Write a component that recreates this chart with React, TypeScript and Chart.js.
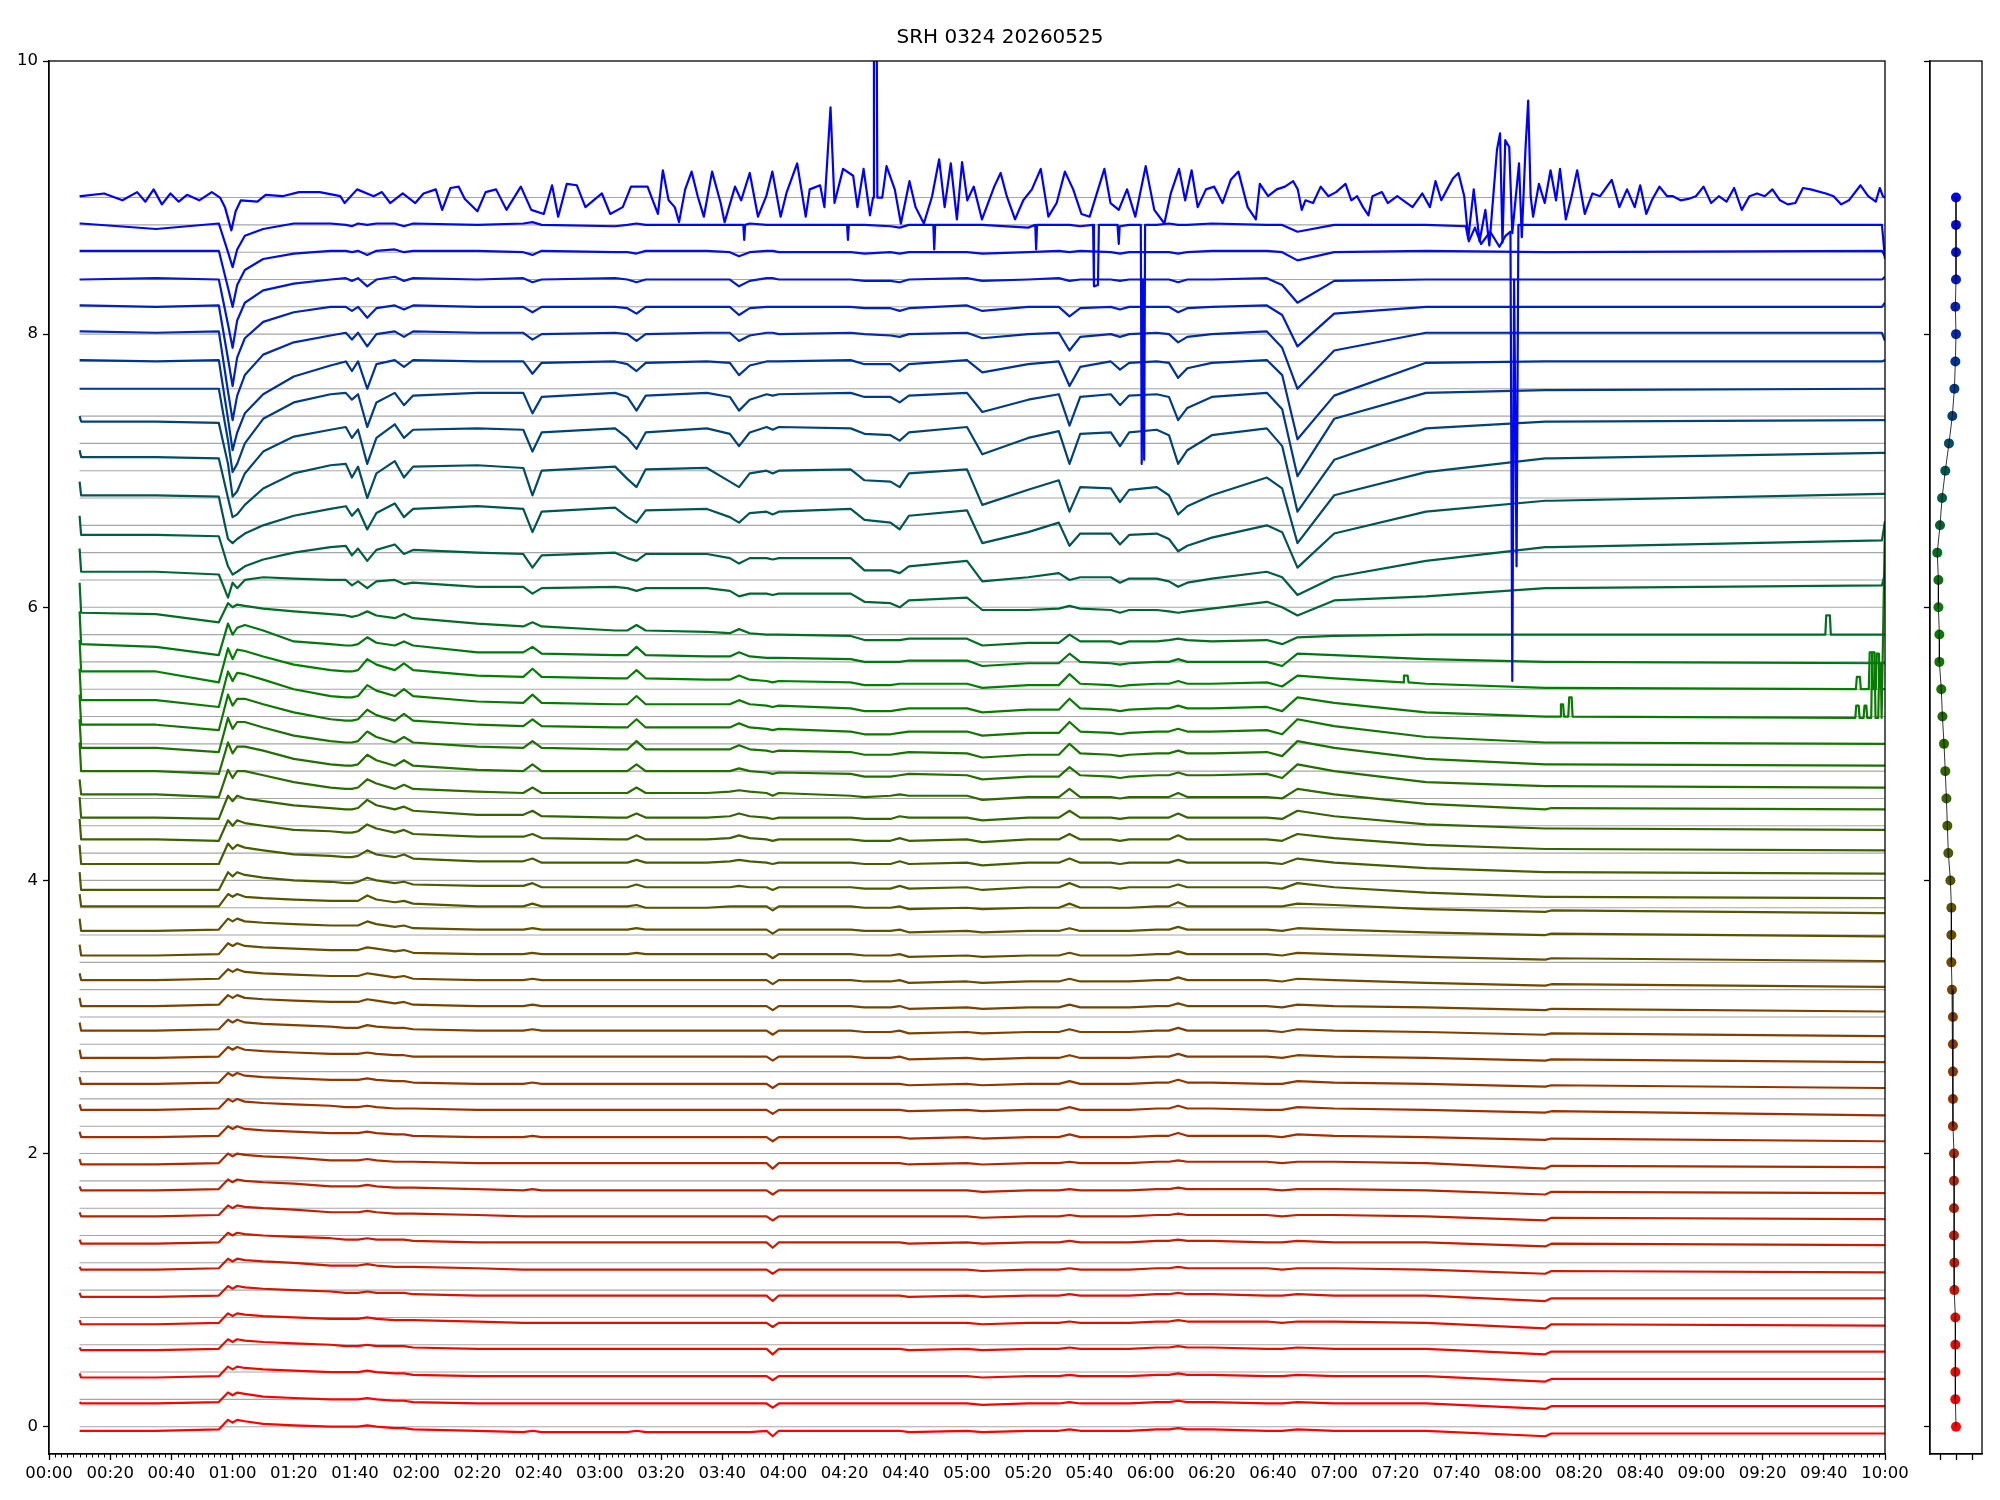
import React, { useEffect, useRef } from "react";
import { Chart, registerables } from "chart.js";

Chart.register(...registerables);

const TITLE = "SRH 0324 20260525";

const X_TICK_MINUTES = [0, 20, 40, 60, 80, 100, 120, 140, 160, 180, 200, 220, 240, 260, 280, 300, 320, 340, 360, 380, 400, 420, 440, 460, 480, 500, 520, 540, 560, 580, 600];
const X_TICK_LABELS = ["00:00", "00:20", "00:40", "01:00", "01:20", "01:40", "02:00", "02:20", "02:40", "03:00", "03:20", "03:40", "04:00", "04:20", "04:40", "05:00", "05:20", "05:40", "06:00", "06:20", "06:40", "07:00", "07:20", "07:40", "08:00", "08:20", "08:40", "09:00", "09:20", "09:40", "10:00"];
const Y_TICKS = [0, 2, 4, 6, 8, 10];
const PANEL_X_TICKS = [-1, 0, 1];

// channel offsets (top = channel 0)
const BASELINES = [9.0, 8.8, 8.6, 8.4, 8.2, 8.0, 7.8, 7.6, 7.4, 7.2, 7.0, 6.8, 6.6, 6.4, 6.2, 6.0, 5.8, 5.6, 5.4, 5.2, 5.0, 4.8, 4.6, 4.4, 4.2, 4.0, 3.8, 3.6, 3.4, 3.2, 3.0, 2.8, 2.6, 2.4, 2.2, 2.0, 1.8, 1.6, 1.4, 1.2, 1.0, 0.8, 0.6, 0.4, 0.2, 0.0];

// right panel marker positions
const DOT_X = [0, 0, 0, 0, -0.04, 0, -0.04, -0.1, -0.23, -0.44, -0.67, -0.87, -1.0, -1.17, -1.1, -1.1, -1.04, -1.04, -0.92, -0.85, -0.75, -0.67, -0.6, -0.54, -0.48, -0.35, -0.29, -0.29, -0.29, -0.25, -0.19, -0.19, -0.19, -0.19, -0.19, -0.125, -0.125, -0.125, -0.125, -0.1, -0.1, -0.04, -0.04, -0.04, -0.04, 0];

// time knots (minutes since 00:00) shared by channels 1..45
const KNOTS = [10, 10.5, 35, 55.5, 58.5, 60, 61.5, 64, 70, 80, 92, 97, 99, 101, 104, 107, 113, 116, 119, 140, 155, 158, 161, 185, 189, 192, 195, 215, 222.5, 225.5, 229, 234.5, 236.5, 238.5, 262, 266.5, 275, 278, 281, 300, 305, 320, 330, 333.5, 337, 347, 350, 353, 362, 366, 369, 372, 380, 398, 403, 408, 420, 450, 489, 491, 599, 600];

// channel 0 (top trace), minutes / values
const TOP_T = [
  10, 10.5, 18, 24, 28.8, 31.5, 34.2, 36.9, 39.7, 42.4,
  45.1, 49.1, 53.2, 55.9, 57.5, 59.6, 61, 62.7, 68.1, 70.8,
  76.3, 81.7, 88.5, 95.2, 96.6, 100.7, 106.1, 108.8, 111.5, 115.6,
  119.7, 122.4, 126.4, 128.5, 131.2, 133.9, 135.9, 140, 142.7, 146.1,
  149.5, 154.2, 157.6, 161.7, 164.4, 166.4, 169.2, 172.5, 175.3, 180.7,
  183.4, 187.5, 190.2, 195.6, 199, 200.6, 202.5, 204.5, 205.9, 207.9,
  210, 212, 214, 216.7, 219.5, 220.8, 224.2, 226.2, 229, 231.7,
  234.4, 236.4, 239.1, 241.1, 244.5, 247.3, 248.6, 252, 253.4, 255.4,
  256.7, 259.5, 262.8, 264.2, 266.2, 268.3, 269.3, 269.6, 270.4, 270.7,
  272.3, 273.7, 276.4, 278.4, 281.2, 283.2, 285.9, 288.6, 290.9, 292.7,
  294.7, 296.7, 298.4, 300.1, 302.2, 304.9, 308.9, 311, 313, 315.7,
  318.4, 321.2, 324.1, 326.6, 329.3, 332, 334.7, 337.4, 340.1, 344.9,
  346.9, 349.6, 352.3, 355, 358.4, 361.2, 364.5, 366.6, 369.3, 371.3,
  373.4, 375.4, 378.1, 380.8, 383.5, 386.2, 388.7, 391.7, 394.4, 395.7,
  398.4, 401.2, 403.9, 406.6, 408.1, 409.4, 410.6, 413.1, 415.6, 418.1,
  420.6, 423.7, 425.6, 427.5, 429.4, 431.2, 432.5, 435.6, 437.5, 440.6,
  443.1, 445.6, 448.8, 451.3, 453.1, 455, 456.9, 458.8, 460.6, 462.5,
  463.8, 465.6, 467.5, 469.4, 470.7, 473.2, 474.2, 475, 475.9, 477.2,
  478.2, 480.4, 481.3, 482.5, 483.4, 484.2, 485, 486.9, 488.8, 490.7,
  492.5, 493.8, 495.7, 497.6, 499.4, 501.9, 504.4, 506.9, 510.7, 513.2,
  515.7, 518.2, 520, 522, 523.8, 526.3, 528.8, 530.7, 533.2, 535.7,
  538.2, 540.7, 543.2, 545.7, 548.2, 550.7, 553.2, 555.7, 558.2, 560.7,
  563.2, 565.7, 568.2, 570.7, 573.2, 575.7, 580.7, 583.2, 585.7, 588.2,
  592, 594.5, 597, 598.3, 599.3, 600,
];
const TOP_V = [
  9.01, 9.01, 9.03, 8.98, 9.04, 8.97, 9.06, 8.95, 9.03, 8.97,
  9.02, 8.98, 9.04, 9.0, 8.93, 8.76, 8.9, 8.98, 8.97, 9.02,
  9.01, 9.04, 9.04, 9.01, 8.96, 9.06, 9.01, 9.04, 8.96, 9.03,
  8.96, 9.03, 9.06, 8.91, 9.07, 9.08, 8.99, 8.9, 9.04, 9.06,
  8.91, 9.08, 8.91, 8.88, 9.09, 8.86, 9.1, 9.09, 8.93, 9.03,
  8.88, 8.93, 9.08, 9.08, 8.88, 9.2, 8.98, 8.93, 8.82, 9.06,
  9.19, 9.01, 8.86, 9.19, 8.96, 8.82, 9.08, 8.98, 9.18, 8.86,
  9.01, 9.19, 8.86, 9.04, 9.25, 8.86, 9.06, 9.09, 8.93, 9.66,
  8.96, 9.21, 9.16, 8.93, 9.21, 8.87, 9.0, 10.8, 10.8, 9.0,
  9.0, 9.23, 9.06, 8.81, 9.12, 8.93, 8.81, 9.01, 9.28, 8.93,
  9.25, 8.84, 9.26, 8.98, 9.08, 8.84, 9.08, 9.18, 9.01, 8.84,
  8.98, 9.06, 9.21, 8.86, 8.96, 9.19, 9.06, 8.88, 8.86, 9.21,
  8.96, 8.91, 9.06, 8.86, 9.23, 8.91, 8.81, 9.03, 9.21, 8.98,
  9.2, 8.93, 9.06, 9.08, 8.96, 9.13, 9.19, 8.93, 8.84, 9.1,
  9.01, 9.06, 9.08, 9.12, 9.06, 8.91, 8.98, 8.96, 9.08, 9.01,
  9.04, 9.1, 8.98, 9.01, 8.93, 8.87, 9.01, 9.04, 8.96, 9.01,
  8.97, 8.93, 9.03, 8.93, 9.12, 8.98, 9.06, 9.14, 9.18, 9.01,
  8.7, 9.06, 8.68, 8.91, 8.65, 9.35, 9.47, 8.67, 9.42, 9.37,
  8.74, 9.25, 8.71, 9.35, 9.71, 9.01, 8.86, 9.1, 8.96, 9.2,
  8.98, 9.21, 8.84, 9.01, 9.2, 8.88, 9.03, 9.01, 9.13, 8.93,
  9.06, 8.93, 9.09, 8.88, 8.98, 9.08, 9.01, 9.01, 8.98, 8.99,
  9.01, 9.08, 8.96, 9.01, 8.97, 9.07, 8.91, 9.01, 9.03, 9.01,
  9.06, 8.98, 8.95, 8.96, 9.07, 9.06, 9.03, 9.01, 8.95, 8.98,
  9.09, 9.01, 8.97, 9.07, 9.01, 9.0,
];

// channels 1..45: deviation from offset at KNOTS, in hundredths
const K1 = [1,1,-3,1,-20,-31,-18,-8,-3,1, 1,0,-1,1,0,1,1,-1,1,0, 1,2,0,-1,0,1,0,0,0,0, 1,0,0,0,0,0,-1,-2,0,0, 0,-2,0,0,-1,0,-1,0,0,1, 0,0,1,0,0,-5,0,0,0,0, 0,-25];
const K2 = [1,1,1,1,-26,-40,-24,-13,-5,-1, 1,1,0,1,-2,1,2,0,1,1, 0,-2,1,0,0,-1,1,1,0,-3, 0,1,1,0,0,-1,0,-1,0,0, -1,0,1,0,1,0,-1,0,0,0, -1,0,1,1,0,-6,0,1,0,0, 1,-3];
const K3 = [0,0,1,0,-33,-50,-30,-17,-8,-3, 0,1,-1,1,-5,0,2,-1,1,0, 1,-2,0,1,0,-2,0,0,0,-5, -1,1,1,0,0,-1,-1,-2,0,1, -1,0,1,-1,0,0,-1,0,0,0, -2,0,0,1,-4,-17,-1,0,0,0, 0,2];
const K4 = [1,1,0,1,-38,-58,-37,-23,-11,-4, 0,0,-3,0,-8,-1,1,-2,1,0, 0,-4,0,0,-1,-5,0,0,0,-6, -1,0,0,0,0,-1,-1,-3,-1,1, -3,0,0,-7,-1,0,-2,0,0,0, -4,-1,0,1,-6,-29,-5,0,0,0, 0,3];
const K5 = [2,2,1,2,-42,-63,-45,-30,-15,-6, -1,1,-4,1,-9,0,2,-2,2,1, 1,-4,0,1,0,-5,0,1,1,-5, -1,1,1,0,1,0,-1,-2,0,1, -3,0,1,-12,-2,0,-2,0,1,0, -6,-2,0,2,-10,-40,-12,1,1,1, 1,-5];
const K6 = [1,1,0,1,-42,-65,-52,-38,-24,-11, -3,0,-7,0,-20,-2,1,-4,1,0, 0,-9,-1,0,-2,-7,-1,0,-1,-10, -3,0,0,0,1,-2,-2,-7,-2,1, -8,-2,0,-18,-4,0,-6,-1,0,-1, -12,-5,-1,1,-10,-57,-25,-1,0,0, 0,1];
const K7 = [0,0,0,0,-38,-61,-55,-40,-22,-10, -4,-3,-8,-4,-28,-10,-3,-12,-5,-3, -3,-18,-6,-3,-6,-16,-5,-3,-6,-16, -8,-4,-5,-4,-3,-6,-6,-10,-5,-3, -17,-8,-4,-27,-6,-4,-12,-5,-4,-6, -23,-14,-6,-3,-15,-64,-22,-3,-1,-1, 0,0];
const K8 = [0,-4,-4,-5,-35,-59,-55,-42,-26,-15, -10,-8,-16,-10,-35,-16,-6,-16,-10,-9, -10,-26,-12,-9,-16,-24,-12,-9,-13,-22, -12,-8,-10,-8,-9,-13,-14,-18,-12,-8, -28,-16,-11,-35,-13,-12,-22,-12,-10,-14, -35,-25,-14,-9,-22,-70,-32,-9,-4,-4, -3,-3];
const K9 = [-5,-10,-10,-11,-40,-54,-52,-45,-33,-22, -16,-15,-25,-17,-40,-22,-13,-25,-17,-16, -18,-38,-20,-17,-26,-32,-19,-18,-28,-32, -22,-20,-22,-20,-19,-27,-28,-32,-22,-19, -45,-34,-27,-50,-32,-33,-43,-34,-32,-38, -52,-46,-38,-25,-33,-73,-38,-21,-11,-11, -7,-7];
const K10 = [-8,-18,-18,-19,-50,-53,-50,-46,-40,-33, -28,-26,-33,-28,-43,-31,-24,-34,-28,-26, -28,-45,-30,-27,-34,-38,-29,-28,-34,-38, -31,-30,-32,-30,-28,-36,-38,-43,-33,-29, -53,-45,-38,-55,-46,-46,-54,-47,-46,-50, -59,-55,-49,-40,-45,-71,-46,-30,-22,-22, -17,-17];
const K11 = [-13,-27,-27,-28,-50,-56,-54,-50,-45,-40, -36,-35,-42,-37,-46,-38,-34,-41,-38,-40, -41,-51,-42,-40,-44,-46,-41,-41,-44,-48, -44,-44,-45,-44,-44,-53,-53,-55,-50,-46, -61,-58,-55,-60,-58,-58,-62,-59,-59,-61, -65,-62,-59,-54,-58,-71,-58,-46,-36,-36, -31,-17];
const K12 = [-17,-34,-34,-36,-53,-42,-46,-40,-38,-39, -40,-40,-44,-41,-46,-41,-40,-43,-42,-45, -45,-50,-46,-45,-46,-48,-46,-46,-48,-52, -50,-50,-51,-50,-50,-56,-57,-60,-55,-53, -62,-62,-61,-59,-61,-62,-64,-62,-62,-63, -64,-63,-61,-56,-60,-66,-55,-52,-46,-46, -44,-35];
const K13 = [-22,-44,-45,-51,-37,-40,-38,-39,-41,-43, -45,-46,-47,-46,-43,-46,-48,-45,-48,-52, -54,-51,-54,-57,-57,-53,-57,-58,-59,-56, -59,-60,-60,-60,-61,-64,-64,-64,-63,-63, -68,-66,-66,-60,-65,-65,-67,-65,-65,-64, -63,-64,-65,-64,-67,-62,-61,-60,-60,-60, -60,-60];
const K14 = [-23,-47,-49,-55,-32,-40,-35,-33,-37,-45, -47,-48,-48,-47,-42,-46,-48,-45,-48,-53, -53,-49,-54,-55,-55,-49,-55,-56,-56,-53, -56,-57,-57,-57,-58,-60,-60,-60,-59,-59, -63,-61,-61,-54,-60,-61,-62,-61,-60,-60, -58,-60,-60,-60,-63,-54,-55,-58,-60,-60, -61,-61];
const K15 = [-24,-47,-47,-55,-30,-38,-31,-32,-36,-42, -46,-47,-47,-46,-38,-42,-46,-41,-46,-50, -51,-45,-51,-52,-52,-46,-52,-53,-53,-50, -53,-54,-55,-54,-55,-57,-57,-56,-56,-56, -59,-57,-57,-49,-56,-57,-58,-57,-56,-56, -54,-56,-56,-55,-58,-50,-52,-56,-59,-59, -60,-60];
const K16 = [-25,-48,-48,-53,-27,-34,-28,-29,-33,-40, -45,-46,-46,-45,-37,-41,-45,-40,-45,-49, -50,-44,-50,-51,-51,-45,-51,-51,-51,-48, -51,-52,-53,-52,-54,-56,-56,-55,-54,-54, -57,-55,-55,-47,-54,-55,-56,-55,-54,-54, -52,-54,-54,-53,-56,-46,-50,-57,-60,-60, -61,82];
const K17 = [-24,-46,-46,-50,-24,-32,-27,-27,-31,-37, -42,-43,-43,-42,-35,-39,-43,-38,-43,-46, -47,-42,-47,-48,-48,-42,-48,-48,-48,-45, -48,-49,-50,-49,-51,-53,-53,-52,-51,-51, -54,-52,-52,-44,-51,-52,-53,-52,-51,-51, -49,-51,-51,-50,-53,-42,-47,-55,-59,-59, -60,-60];
const K18 = [-22,-43,-43,-46,-21,-29,-24,-24,-28,-34, -38,-39,-39,-38,-31,-35,-39,-35,-39,-42, -43,-38,-43,-44,-44,-38,-44,-44,-44,-41, -44,-45,-46,-45,-46,-48,-48,-47,-46,-47, -50,-48,-48,-40,-47,-48,-49,-48,-47,-47, -45,-47,-47,-46,-49,-38,-43,-51,-55,-55, -56,-56];
const K19 = [-19,-40,-40,-42,-19,-27,-22,-22,-25,-31, -35,-36,-36,-35,-28,-32,-36,-32,-36,-39, -40,-35,-40,-40,-40,-35,-40,-40,-40,-38, -40,-41,-42,-41,-42,-44,-44,-43,-42,-43, -46,-44,-44,-37,-43,-44,-45,-44,-43,-43, -41,-43,-43,-42,-45,-35,-40,-48,-51,-51, -52,-52];
const K20 = [-26,-37,-37,-39,-19,-25,-20,-20,-23,-28, -32,-33,-33,-32,-26,-29,-33,-30,-33,-35, -36,-32,-36,-36,-36,-32,-36,-36,-35,-34, -35,-36,-38,-36,-38,-39,-38,-37,-38,-38, -41,-39,-39,-33,-39,-39,-40,-39,-39,-39, -36,-39,-39,-39,-40,-33,-37,-44,-48,-47, -48,-48];
const K21 = [-19,-34,-34,-35,-18,-22,-18,-20,-22,-25, -27,-28,-28,-27,-21,-25,-28,-26,-29,-32, -32,-29,-33,-34,-34,-31,-34,-34,-33,-31, -33,-34,-35,-34,-34,-35,-35,-33,-34,-34, -36,-34,-34,-29,-34,-34,-35,-34,-34,-34, -31,-34,-34,-34,-35,-29,-33,-39,-42,-42, -43,-43];
const K22 = [-15,-30,-30,-31,-16,-20,-16,-18,-20,-23, -24,-25,-25,-24,-19,-22,-25,-23,-26,-28, -28,-26,-29,-30,-30,-27,-30,-30,-29,-27, -29,-30,-31,-30,-30,-31,-31,-29,-31,-30, -32,-30,-30,-26,-30,-30,-31,-30,-30,-30, -27,-30,-30,-30,-31,-26,-29,-34,-37,-37, -38,-38];
const K23 = [-14,-28,-28,-28,-13,-17,-14,-16,-18,-21, -22,-23,-23,-22,-18,-21,-23,-21,-24,-26, -26,-24,-27,-27,-27,-25,-27,-27,-26,-25, -26,-27,-28,-27,-27,-28,-28,-26,-28,-27, -29,-27,-27,-24,-27,-27,-28,-27,-27,-27, -25,-27,-27,-27,-28,-24,-27,-31,-34,-34, -35,-35];
const K24 = [-14,-27,-27,-27,-14,-17,-14,-16,-18,-20, -21,-22,-22,-21,-18,-20,-22,-21,-23,-24, -24,-22,-25,-25,-25,-23,-25,-25,-25,-24, -25,-25,-27,-25,-25,-26,-26,-24,-26,-25, -27,-25,-25,-22,-25,-25,-26,-25,-25,-25, -23,-25,-25,-25,-26,-22,-25,-29,-32,-32, -33,-33];
const K25 = [-10,-19,-19,-19,-10,-12,-10,-12,-13,-14, -15,-15,-15,-15,-11,-14,-16,-15,-17,-19, -19,-17,-19,-19,-19,-18,-20,-20,-19,-19, -19,-19,-22,-19,-19,-20,-20,-19,-21,-20, -21,-20,-20,-17,-20,-20,-20,-20,-19,-19, -16,-19,-19,-19,-19,-17,-18,-21,-23,-22, -24,-24];
const K26 = [-8,-17,-17,-16,-8,-10,-8,-10,-11,-12, -13,-13,-13,-13,-10,-12,-14,-13,-15,-16, -16,-15,-16,-16,-16,-15,-16,-16,-16,-16, -16,-16,-19,-16,-16,-17,-17,-16,-18,-17, -18,-17,-17,-15,-17,-17,-17,-17,-16,-16, -14,-16,-16,-16,-17,-15,-16,-18,-20,-19, -21,-21];
const K27 = [-7,-15,-15,-14,-6,-8,-6,-8,-9,-10, -11,-11,-11,-11,-9,-10,-12,-11,-13,-14, -14,-13,-14,-14,-14,-13,-14,-14,-14,-14, -14,-14,-17,-14,-14,-15,-15,-14,-16,-15, -16,-15,-15,-13,-15,-15,-15,-15,-14,-14, -12,-14,-14,-14,-15,-13,-14,-16,-18,-17, -19,-19];
const K28 = [-8,-13,-13,-12,-5,-7,-5,-7,-8,-9, -10,-10,-10,-10,-8,-9,-11,-10,-12,-13, -13,-12,-13,-13,-13,-13,-13,-13,-13,-13, -13,-13,-16,-13,-13,-14,-14,-13,-15,-14, -15,-14,-14,-12,-14,-14,-14,-14,-13,-13, -11,-13,-13,-13,-14,-12,-13,-15,-17,-16, -18,-18];
const K29 = [-6,-12,-12,-11,-4,-6,-4,-6,-7,-8, -9,-9,-9,-9,-7,-8,-10,-9,-11,-12, -12,-11,-12,-12,-12,-12,-12,-12,-12,-12, -12,-12,-15,-12,-12,-13,-13,-12,-14,-13, -14,-13,-13,-11,-13,-13,-13,-13,-12,-12, -10,-12,-12,-12,-13,-11,-12,-13,-15,-14, -16,-16];
const K30 = [-4,-10,-10,-9,-2,-4,-2,-4,-5,-6, -7,-8,-8,-8,-6,-7,-8,-8,-9,-10, -10,-9,-10,-10,-10,-10,-10,-10,-10,-10, -10,-10,-13,-10,-10,-11,-11,-10,-12,-11, -12,-11,-11,-9,-11,-11,-11,-11,-10,-10, -8,-10,-10,-10,-11,-9,-10,-11,-13,-12, -14,-14];
const K31 = [-4,-10,-10,-9,-2,-4,-2,-4,-5,-6, -7,-7,-7,-7,-6,-7,-8,-8,-9,-9, -9,-9,-9,-9,-9,-9,-9,-9,-9,-9, -9,-9,-12,-9,-9,-10,-10,-9,-11,-10, -11,-10,-10,-8,-10,-10,-10,-10,-9,-9, -7,-9,-9,-9,-10,-8,-9,-10,-12,-11, -13,-13];
const K32 = [-4,-9,-9,-8,-1,-3,-1,-3,-4,-5, -6,-6,-6,-6,-5,-6,-7,-7,-8,-9, -9,-8,-9,-9,-9,-9,-9,-9,-9,-9, -9,-9,-12,-9,-9,-9,-9,-9,-10,-9, -10,-9,-9,-7,-9,-9,-9,-9,-8,-8, -6,-8,-8,-9,-9,-7,-8,-9,-11,-10, -12,-12];
const K33 = [-4,-8,-8,-7,0,-2,0,-2,-3,-4, -5,-6,-6,-6,-5,-6,-7,-7,-7,-8, -8,-8,-8,-8,-8,-8,-8,-8,-8,-8, -8,-8,-11,-8,-8,-8,-8,-8,-9,-8, -9,-8,-8,-6,-8,-8,-8,-8,-7,-7, -5,-7,-7,-8,-8,-6,-7,-8,-10,-9, -12,-12];
const K34 = [-4,-8,-8,-7,0,-2,0,-2,-3,-4, -5,-5,-5,-5,-4,-5,-6,-6,-7,-8, -8,-7,-8,-8,-8,-8,-8,-8,-8,-8, -8,-8,-11,-8,-8,-8,-8,-8,-9,-8, -9,-8,-8,-6,-8,-8,-8,-8,-7,-7, -5,-7,-7,-7,-8,-6,-7,-8,-10,-9, -11,-11];
const K35 = [-4,-8,-8,-7,0,-2,0,-1,-2,-3, -5,-5,-5,-5,-4,-5,-6,-6,-6,-7, -7,-7,-7,-7,-7,-7,-7,-7,-7,-7, -7,-7,-11,-7,-7,-7,-7,-7,-8,-7, -8,-7,-7,-6,-7,-7,-7,-7,-6,-6, -5,-6,-6,-6,-7,-6,-6,-7,-11,-9, -10,-10];
const K36 = [-4,-7,-7,-6,1,-1,1,0,-1,-2, -4,-4,-4,-4,-3,-4,-5,-5,-5,-6, -7,-6,-7,-7,-7,-7,-7,-7,-7,-7, -7,-7,-10,-7,-7,-7,-7,-7,-7,-7, -8,-7,-7,-6,-7,-7,-7,-7,-6,-6, -5,-6,-6,-6,-7,-6,-6,-7,-10,-8, -9,-9];
const K37 = [-3,-6,-6,-5,2,0,2,1,0,-1, -3,-3,-3,-3,-2,-3,-4,-4,-4,-5, -6,-6,-6,-6,-6,-6,-6,-6,-6,-6, -6,-6,-9,-6,-6,-6,-6,-6,-6,-6, -7,-6,-6,-5,-6,-6,-6,-6,-5,-5, -4,-5,-5,-5,-6,-5,-5,-6,-9,-7, -8,-8];
const K38 = [-3,-6,-6,-5,2,0,2,1,0,-1, -2,-3,-3,-3,-2,-3,-3,-3,-4,-5, -5,-5,-5,-5,-5,-5,-5,-5,-5,-5, -5,-5,-9,-5,-5,-5,-5,-5,-6,-5, -6,-5,-5,-4,-5,-5,-5,-5,-4,-4, -3,-4,-4,-5,-5,-4,-5,-5,-8,-6, -7,-7];
const K39 = [-3,-5,-5,-4,3,1,3,2,1,0, -2,-2,-2,-2,-1,-2,-3,-3,-3,-4, -5,-5,-5,-5,-5,-5,-5,-5,-5,-5, -5,-5,-8,-5,-5,-5,-5,-5,-5,-5, -6,-5,-5,-4,-5,-5,-5,-5,-4,-4, -3,-4,-4,-4,-5,-4,-4,-5,-8,-6, -7,-7];
const K40 = [-2,-5,-5,-4,3,1,3,2,1,0, -1,-2,-2,-2,-1,-2,-2,-2,-3,-4, -4,-4,-4,-4,-4,-4,-4,-4,-4,-4, -4,-4,-8,-4,-4,-4,-4,-4,-5,-4, -5,-4,-4,-3,-4,-4,-4,-4,-3,-3, -2,-3,-3,-4,-4,-3,-4,-4,-8,-6, -6,-6];
const K41 = [-2,-5,-5,-4,3,1,3,2,1,0, -1,-1,-1,-1,0,-1,-2,-2,-2,-3, -4,-4,-4,-4,-4,-4,-4,-4,-4,-4, -4,-4,-7,-4,-4,-4,-4,-4,-4,-4, -5,-4,-4,-3,-4,-4,-4,-4,-3,-3, -2,-3,-3,-3,-4,-3,-3,-4,-8,-5, -6,-6];
const K42 = [-2,-4,-4,-3,4,2,4,3,2,1, 0,-1,-1,-1,0,-1,-1,-1,-2,-3, -3,-3,-3,-3,-3,-3,-3,-3,-3,-3, -3,-3,-7,-3,-3,-3,-3,-3,-4,-3, -4,-3,-3,-2,-3,-3,-3,-3,-2,-2, -1,-2,-2,-3,-3,-2,-3,-3,-7,-5, -5,-5];
const K43 = [-1,-4,-4,-3,4,2,4,3,2,1, 0,0,0,0,1,0,-1,-1,-2,-3, -3,-3,-3,-3,-3,-3,-3,-3,-3,-3, -3,-3,-6,-3,-3,-3,-3,-3,-3,-3, -4,-3,-3,-2,-3,-3,-3,-3,-2,-2, -1,-2,-2,-3,-3,-2,-3,-3,-7,-5, -5,-5];
const K44 = [-2,-3,-3,-2,5,3,5,4,2,1, 0,0,0,0,1,0,-1,-1,-2,-3, -3,-3,-3,-3,-3,-3,-3,-3,-3,-3, -3,-3,-6,-3,-3,-3,-3,-3,-3,-3, -4,-3,-3,-2,-3,-3,-3,-3,-2,-2, -1,-2,-2,-3,-3,-2,-3,-3,-7,-5, -5,-5];
const K45 = [-3,-3,-3,-2,5,3,5,4,2,1, 0,0,0,0,1,0,-1,-1,-2,-3, -4,-3,-4,-4,-4,-3,-4,-4,-4,-4, -4,-3,-7,-3,-3,-3,-3,-3,-4,-3, -4,-3,-3,-2,-3,-3,-3,-3,-2,-2, -1,-2,-2,-3,-3,-2,-3,-3,-7,-5, -5,-5];

const TRACE_DEVS = [K1, K2, K3, K4, K5, K6, K7, K8, K9, K10, K11, K12, K13, K14, K15, K16, K17, K18, K19, K20, K21, K22, K23, K24, K25, K26, K27, K28, K29, K30, K31, K32, K33, K34, K35, K36, K37, K38, K39, K40, K41, K42, K43, K44, K45];

// narrow spikes / pulses (absolute values)
const K1_SPIKE_T = [226.9, 227.2, 227.5, 260.8, 261.1, 261.4, 289.0, 289.3, 289.6, 322.3, 322.6, 322.9, 341.2, 341.5, 342.8, 343.1, 349.2, 349.6, 349.9, 356.8, 357.1, 357.5, 357.9, 358.2, 463, 464, 466, 468, 471, 474, 476, 477.6, 478.2, 478.8, 479.6, 480.2];
const K1_SPIKE_V = [8.8, 8.69, 8.8, 8.8, 8.69, 8.8, 8.8, 8.62, 8.8, 8.8, 8.62, 8.8, 8.8, 8.35, 8.36, 8.8, 8.8, 8.66, 8.79, 8.8, 7.05, 8.4, 7.08, 8.8, 8.79, 8.68, 8.78, 8.66, 8.75, 8.64, 8.72, 8.75, 5.46, 8.4, 6.3, 8.8];
const K13_PULSE_T = [580.5, 580.8, 582.0, 582.3];
const K13_PULSE_V = [5.8, 5.94, 5.94, 5.8];
const K15_PULSE_T = [442.5, 442.8, 444.0, 444.3, 590.5, 590.8, 591.8, 592.1, 594.7, 595.0, 595.8, 596.1, 597.0, 597.3, 598.0, 598.3];
const K15_PULSE_V = [5.45, 5.5, 5.5, 5.45, 5.4, 5.49, 5.49, 5.4, 5.4, 5.67, 5.67, 5.4, 5.4, 5.66, 5.66, 5.42];
const K16_PULSE_T = [493.8, 494.1, 494.8, 495.1, 496.5, 496.8, 497.6, 497.9, 590.3, 590.6, 591.4, 591.7, 593.0, 593.3, 593.9, 594.2, 595.5, 595.8, 596.6, 596.9, 597.8, 598.1, 598.6, 598.9];
const K16_PULSE_V = [5.2, 5.29, 5.29, 5.2, 5.2, 5.34, 5.34, 5.2, 5.19, 5.28, 5.28, 5.19, 5.19, 5.28, 5.28, 5.19, 5.19, 5.67, 5.67, 5.19, 5.19, 5.58, 5.58, 5.19];

const EXTRAS: Record<number, [number[], number[]]> = {
  1: [K1_SPIKE_T, K1_SPIKE_V],
  13: [K13_PULSE_T, K13_PULSE_V],
  15: [K15_PULSE_T, K15_PULSE_V],
  16: [K16_PULSE_T, K16_PULSE_V],
};

const TRACE_START = 10;
const TRACE_END = 600;

function colorFor(k: number): string {
  if (k <= 15) {
    const t = k / 15;
    return `rgb(0,${Math.round(128 * t)},${Math.round(255 * (1 - t))})`;
  }
  const t = (k - 15) / 30;
  return `rgb(${Math.round(255 * t)},${Math.round(128 * (1 - t))},0)`;
}

function buildTrace(k: number) {
  if (k === 0) return TOP_T.map((t, i) => ({ x: t, y: TOP_V[i] }));
  const base = BASELINES[k];
  const dev = TRACE_DEVS[k - 1];
  let pts = KNOTS.map((t, i) => ({ x: t, y: Math.round((base + dev[i] / 100) * 1000) / 1000 }));
  const ex = EXTRAS[k];
  if (ex) {
    pts = pts.concat(ex[0].map((t, i) => ({ x: t, y: ex[1][i] })));
    pts.sort((a, b) => a.x - b.x);
  }
  return pts;
}

const framePlugin = {
  id: "frame",
  afterDraw(chart: any) {
    const { ctx, chartArea: a } = chart;
    ctx.save();
    ctx.strokeStyle = "#000";
    ctx.lineWidth = 1.3;
    ctx.strokeRect(a.left, a.top, a.right - a.left, a.bottom - a.top);
    ctx.restore();
  },
};

const minorTickPlugin = {
  id: "minorTicks",
  afterDraw(chart: any) {
    const { ctx, chartArea: a } = chart;
    const xs = chart.scales.x;
    ctx.save();
    ctx.strokeStyle = "#000";
    ctx.lineWidth = 1;
    ctx.beginPath();
    for (let m = 0; m <= 600; m += 2) {
      if (m % 20 === 0) continue;
      const px = Math.round(xs.getPixelForValue(m)) + 0.5;
      ctx.moveTo(px, a.bottom);
      ctx.lineTo(px, a.bottom + 3.5);
    }
    ctx.stroke();
    ctx.restore();
  },
};

export default function App() {
  const mainRef = useRef<HTMLCanvasElement>(null);
  const panelRef = useRef<HTMLCanvasElement>(null);

  useEffect(() => {
    document.body.style.margin = "0";
    Chart.defaults.font.family = "'DejaVu Sans', sans-serif";
    Chart.defaults.color = "#000";

    const baselineSets = BASELINES.map((b) => ({
      data: [
        { x: TRACE_START, y: b },
        { x: TRACE_END, y: b },
      ],
      borderColor: "rgba(150,150,150,0.85)",
      borderWidth: 1.1,
      pointRadius: 0,
      order: 2,
    }));
    const traceSets = BASELINES.map((_, k) => ({
      data: buildTrace(k),
      borderColor: colorFor(k),
      borderWidth: 2.2,
      borderJoinStyle: "round" as const,
      pointRadius: 0,
      order: 1,
    }));

    const tickFont = { size: 16.5 };

    const main = new Chart(mainRef.current as HTMLCanvasElement, {
      type: "line",
      data: { datasets: [...traceSets, ...baselineSets] as any },
      options: {
        animation: false,
        responsive: false,
        devicePixelRatio: 1,
        events: [],
        layout: { padding: 0 },
        plugins: {
          legend: { display: false },
          tooltip: { enabled: false },
          title: {
            display: true,
            text: TITLE,
            color: "#000",
            font: { size: 20, weight: "normal" },
            padding: { top: 26, bottom: 11 },
          },
        },
        scales: {
          x: {
            type: "linear",
            min: 0,
            max: 600,
            afterBuildTicks: (s: any) => {
              s.ticks = X_TICK_MINUTES.map((v) => ({ value: v }));
            },
            afterFit: (s: any) => {
              s.height = 46;
            },
            ticks: {
              autoSkip: false,
              maxRotation: 0,
              minRotation: 0,
              padding: 4,
              color: "#000",
              font: tickFont,
              callback: (v: any) => {
                const i = X_TICK_MINUTES.indexOf(Number(v));
                return i >= 0 ? X_TICK_LABELS[i] : "";
              },
            },
            grid: { display: true, drawOnChartArea: false, drawTicks: true, tickLength: 6, tickWidth: 1.3, tickColor: "#000" },
            border: { display: true, color: "#000", width: 1.3 },
          },
          y: {
            type: "linear",
            position: "left",
            min: -0.2,
            max: 10,
            afterBuildTicks: (s: any) => {
              s.ticks = Y_TICKS.map((v) => ({ value: v }));
            },
            afterFit: (s: any) => {
              s.width = 49;
            },
            ticks: { padding: 5, color: "#000", font: tickFont, callback: (v: any) => String(v) },
            grid: { display: true, drawOnChartArea: false, drawTicks: true, tickLength: 6, tickWidth: 1.3, tickColor: "#000" },
            border: { display: true, color: "#000", width: 1.3 },
          },
          y2: {
            type: "linear",
            position: "right",
            display: true,
            grid: { display: false },
            border: { display: false },
            ticks: { display: false },
            afterFit: (s: any) => {
              s.width = 115;
            },
          },
        },
      } as any,
      plugins: [framePlugin, minorTickPlugin],
    });

    const dotLine = {
      data: DOT_X.map((x, k) => ({ x, y: BASELINES[k] })),
      borderColor: "rgba(0,0,0,0.8)",
      borderWidth: 1,
      pointRadius: 0,
      order: 1,
    };
    const dotPoints = {
      data: DOT_X.map((x, k) => ({ x, y: BASELINES[k] })),
      showLine: false,
      pointRadius: 5,
      pointBorderWidth: 0,
      pointBackgroundColor: BASELINES.map((_, k) => colorFor(k)),
      pointBorderColor: BASELINES.map((_, k) => colorFor(k)),
      order: 2,
    };

    const panel = new Chart(panelRef.current as HTMLCanvasElement, {
      type: "line",
      data: { datasets: [dotLine, dotPoints] as any },
      options: {
        animation: false,
        responsive: false,
        devicePixelRatio: 1,
        events: [],
        layout: { padding: { left: 40, right: 18, top: 61, bottom: 0 } },
        plugins: { legend: { display: false }, tooltip: { enabled: false }, title: { display: false } },
        scales: {
          x: {
            type: "linear",
            min: -1.625,
            max: 1.625,
            afterBuildTicks: (s: any) => {
              s.ticks = PANEL_X_TICKS.map((v) => ({ value: v }));
            },
            afterFit: (s: any) => {
              s.height = 46;
            },
            ticks: { autoSkip: false, maxRotation: 0, callback: () => "" },
            grid: { display: true, drawOnChartArea: false, drawTicks: true, tickLength: 6, tickWidth: 1.3, tickColor: "#000" },
            border: { display: true, color: "#000", width: 1.3 },
          },
          y: {
            type: "linear",
            min: -0.2,
            max: 10,
            afterBuildTicks: (s: any) => {
              s.ticks = Y_TICKS.map((v) => ({ value: v }));
            },
            afterFit: (s: any) => {
              s.width = 10;
            },
            ticks: { callback: () => "", padding: 0 },
            grid: { display: true, drawOnChartArea: false, drawTicks: true, tickLength: 6, tickWidth: 1.3, tickColor: "#000" },
            border: { display: true, color: "#000", width: 1.3 },
          },
        },
      } as any,
      plugins: [framePlugin],
    });

    return () => {
      main.destroy();
      panel.destroy();
    };
  }, []);

  return (
    <div style={{ position: "relative", width: 2000, height: 1500, background: "#fff" }}>
      <canvas ref={mainRef} width={2000} height={1500} style={{ position: "absolute", left: 0, top: 0, width: 2000, height: 1500 }} />
      <canvas ref={panelRef} width={120} height={1500} style={{ position: "absolute", left: 1880, top: 0, width: 120, height: 1500 }} />
    </div>
  );
}
